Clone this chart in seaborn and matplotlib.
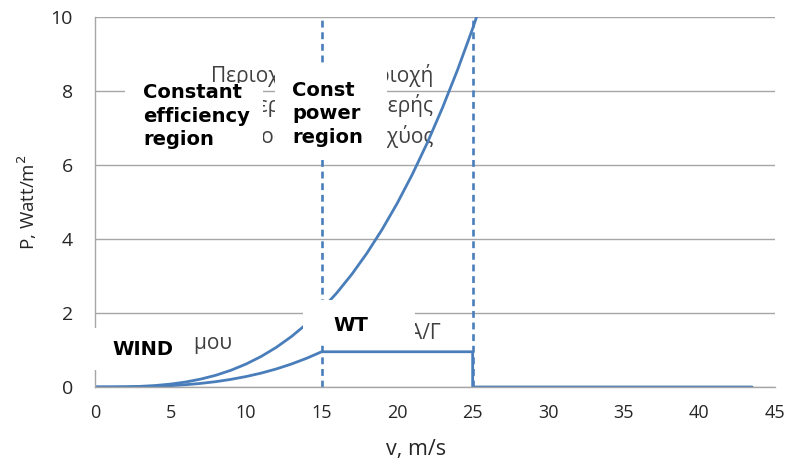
import matplotlib
matplotlib.use("Agg")
import matplotlib.pyplot as plt
from matplotlib.patches import Rectangle
import numpy as np
import pandas as pd
import seaborn as sns

# Wind speed samples (m/s)
wind_speed = [0, 1, 2, 3, 4, 5, 6, 7, 8, 9, 10, 11, 12, 13, 14, 15,
              16, 17, 18, 19, 20, 21, 22, 23, 24, 25, 26]
# Power available in the wind (W/m^2)
wind_power = [0, 0.0006, 0.005, 0.017, 0.040, 0.078, 0.134, 0.213, 0.317,
              0.452, 0.620, 0.825, 1.071, 1.362, 1.701, 2.093, 2.540, 3.046,
              3.616, 4.253, 4.960, 5.742, 6.602, 7.544, 8.571, 9.688, 10.897]

# Wind-turbine output: constant efficiency, rated plateau, cut-out
wt_speed = [0, 1, 2, 3, 4, 5, 6, 7, 8, 9, 10, 11, 12, 13, 14, 15,
            25, 25, 43.5]
wt_power = [0, 0.0003, 0.002, 0.008, 0.018, 0.035, 0.061, 0.097, 0.144,
            0.206, 0.282, 0.375, 0.487, 0.620, 0.774, 0.952,
            0.952, 0, 0]

rated_speed = 15
cutout_speed = 25

x_ticks = [0, 5, 10, 15, 20, 25, 30, 35, 40, 45]
y_ticks = [0, 2, 4, 6, 8, 10]

sns.set_theme(style="white")
plt.rcParams["font.family"] = ["Open Sans", "DejaVu Sans"]

blue = "#4a7ebb"
grid_gray = "#a6a6a6"
text_dark = "#262626"

fig = plt.figure(figsize=(7.89, 4.59), dpi=100)
ax = fig.add_axes([0.1204, 0.1569, 0.982 - 0.1204, 0.963 - 0.1569])

wind_df = pd.DataFrame({"v": wind_speed, "P": wind_power})
wt_df = pd.DataFrame({"v": wt_speed, "P": wt_power})

sns.lineplot(data=wind_df, x="v", y="P", ax=ax, color=blue, lw=2.0,
             sort=False, estimator=None, zorder=2)
sns.lineplot(data=wt_df, x="v", y="P", ax=ax, color=blue, lw=2.0,
             sort=False, estimator=None, zorder=2)

for xv in (rated_speed, cutout_speed):
    ax.axvline(xv, color=blue, lw=1.9, ls=(0, (2.6, 1.8)), zorder=2)

ax.set_xlim(0, 45)
ax.set_ylim(0, 10)
ax.set_xticks(x_ticks)
ax.set_yticks(y_ticks)
ax.yaxis.grid(True, color=grid_gray, lw=1.0, zorder=0)
ax.set_axisbelow(True)

for side in ("top", "right"):
    ax.spines[side].set_visible(False)
for side in ("left", "bottom"):
    ax.spines[side].set_color(grid_gray)
    ax.spines[side].set_linewidth(1.0)

ax.tick_params(axis="both", which="major", direction="out", length=4,
               width=1.0, color=grid_gray, colors=text_dark)
ax.tick_params(axis="x", labelsize=13, pad=8)
ax.tick_params(axis="y", labelsize=14, pad=12)

ax.set_xlabel("v, m/s", fontsize=15.5, color=text_dark)
ax.xaxis.set_label_coords(0.472, -0.14)
ax.set_ylabel("P, Watt/m$^2$", fontsize=13.5, color=text_dark, labelpad=8)

# Greek captions underneath the English labels
greek_kw = dict(fontsize=15, color="#404040", va="center", zorder=1,
                family=["Open Sans", "DejaVu Sans"])
ax.text(7.7, 8.43, "Περιοχή", ha="left", **greek_kw)
ax.text(7.7, 7.62, "σταθερής", ha="left", **greek_kw)
ax.text(7.7, 6.76, "απόδοσης", ha="left", **greek_kw)
ax.text(22.4, 8.43, "Περιοχή", ha="right", **greek_kw)
ax.text(22.4, 7.62, "σταθερής", ha="right", **greek_kw)
ax.text(22.4, 6.76, "ισχύος", ha="right", **greek_kw)
ax.text(9.07, 1.19, "Ισχύς ανέμου", ha="right", **greek_kw)
ax.text(22.9, 1.46, "Ισχύς Α/Γ", ha="right", **greek_kw)

# White label boxes
boxes = [(2.0, 6.4, 11.1, 8.22), (11.9, 6.2, 19.3, 8.75),
         (-0.15, 0.46, 6.55, 1.6), (13.8, 1.13, 21.2, 2.35)]
for x0, y0, x1, y1 in boxes:
    ax.add_patch(Rectangle((x0, y0), x1 - x0, y1 - y0, facecolor="white",
                           edgecolor="none", zorder=3, clip_on=False))

en_kw = dict(fontsize=14, fontweight="bold", color="black", va="center",
             ha="left", zorder=4, family="DejaVu Sans", linespacing=1.3)
ax.text(3.18, 7.32, "Constant\nefficiency\nregion", **en_kw)
ax.text(13.04, 7.38, "Const\npower\nregion", **en_kw)
ax.text(1.13, 1.0, "WIND", **en_kw)
ax.text(15.8, 1.65, "WT", **en_kw)

fig.savefig("out.png", dpi=100)
